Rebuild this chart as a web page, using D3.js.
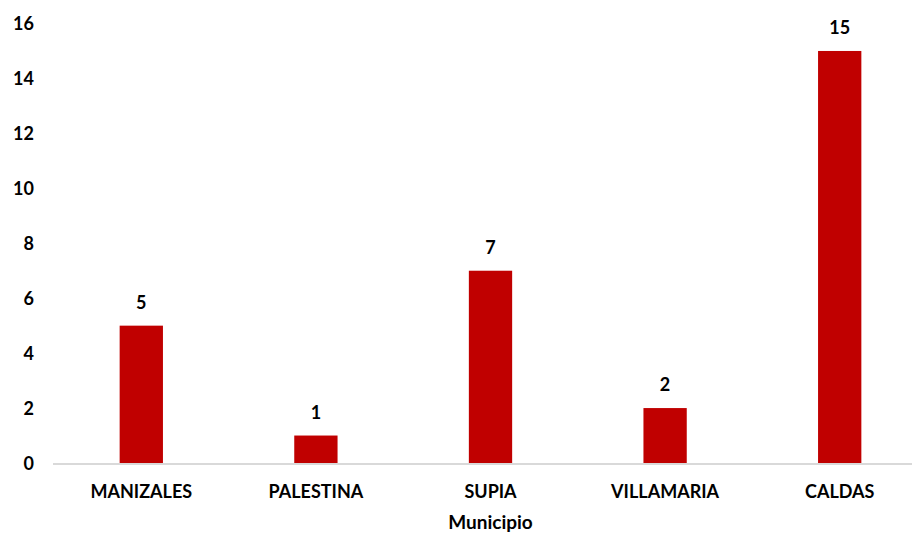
<!DOCTYPE html>
<html>
<head>
<meta charset="utf-8">
<script src="https://cdn.jsdelivr.net/npm/d3@7"></script>
<style>
  html, body { margin: 0; padding: 0; background: #fff; }
  svg text { font-family: Lato, "Open Sans", sans-serif; font-weight: 700; fill: #000; }
</style>
</head>
<body>
<svg id="chart" width="912" height="535"></svg>
<script>
// Cases per municipality
const municipios = ["MANIZALES", "PALESTINA", "SUPIA", "VILLAMARIA", "CALDAS"];
const casos = [5, 1, 7, 2, 15];
const yTicks = [0, 2, 4, 6, 8, 10, 12, 14, 16];
const xTitle = "Municipio";

const svg = d3.select("#chart");
const plot = { left: 54, right: 927, top: 23.5, bottom: 463 };

const x = d3.scaleBand()
  .domain(municipios)
  .range([plot.left, plot.right])
  .paddingInner(0.752)
  .paddingOuter(0.376);

const y = d3.scaleLinear()
  .domain([0, 16])
  .range([plot.bottom, plot.top]);

// Y axis labels (no line, no ticks)
const yAxis = d3.axisLeft(y).tickValues(yTicks).tickSize(0).tickPadding(0);
const gy = svg.append("g").attr("transform", "translate(34,0)").call(yAxis);
gy.select(".domain").remove();
gy.selectAll("text")
  .style("font-size", "18px")
  .attr("dy", "0.36em");

// Bars
svg.append("g").selectAll("rect")
  .data(municipios)
  .join("rect")
  .attr("x", d => x(d))
  .attr("width", x.bandwidth())
  .attr("y", (d, i) => y(casos[i]))
  .attr("height", (d, i) => y(0) - y(casos[i]))
  .attr("fill", "#c00000");

// Value labels
svg.append("g").selectAll("text")
  .data(municipios)
  .join("text")
  .attr("x", d => x(d) + x.bandwidth() / 2)
  .attr("y", (d, i) => y(casos[i]) - 17)
  .attr("text-anchor", "middle")
  .style("font-size", "18px")
  .text((d, i) => casos[i]);

// Category axis
const xAxis = d3.axisBottom(x).tickSize(0).tickPadding(22);
const gx = svg.append("g").attr("transform", `translate(0,${plot.bottom})`).call(xAxis);
gx.select(".domain").remove();
gx.selectAll("text").style("font-size", "18px");
svg.append("line")
  .attr("x1", 53).attr("x2", 912)
  .attr("y1", plot.bottom + 1).attr("y2", plot.bottom + 1)
  .attr("stroke", "#d9d9d9").attr("stroke-width", 2);

// Axis title
svg.append("text")
  .attr("x", x("SUPIA") + x.bandwidth() / 2)
  .attr("y", 529)
  .attr("text-anchor", "middle")
  .style("font-size", "19px")
  .text(xTitle);
</script>
</body>
</html>
